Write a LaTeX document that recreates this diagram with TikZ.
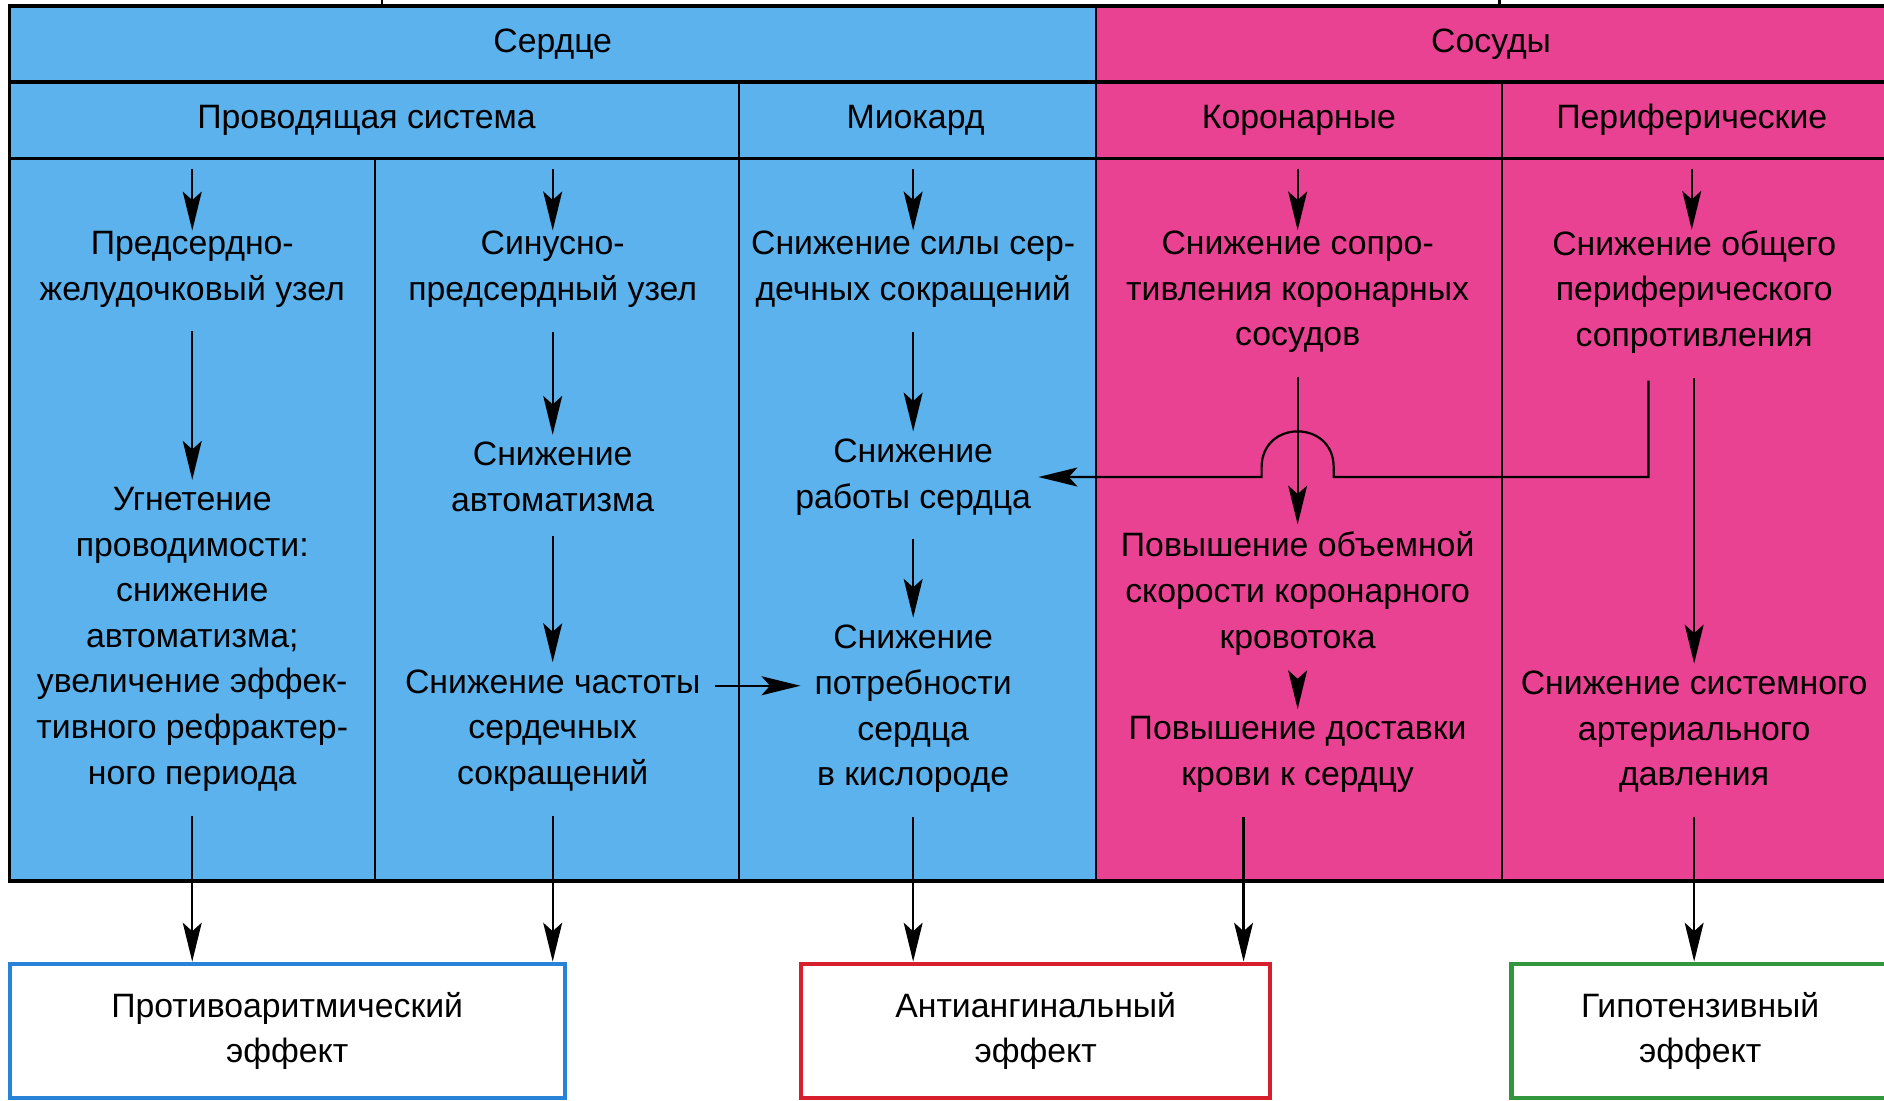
\documentclass[tikz,border=0pt]{standalone}
\usepackage{fontspec}
\setmainfont{Liberation Sans}
\usepackage{xcolor}
\usetikzlibrary{positioning,calc,arrows.meta}
\definecolor{HeartBlue}{RGB}{92,178,236}
\definecolor{VesselPink}{RGB}{234,66,146}
\definecolor{BoxBlue}{RGB}{40,130,215}
\definecolor{BoxRed}{RGB}{215,30,45}
\definecolor{BoxGreen}{RGB}{50,150,60}
\tikzset{
    txt/.style={align=center, inner sep=0pt, font=\fontsize{10}{13.5}\selectfont},
    arr/.style={draw=black, line width=0.65pt, -{Stealth[length=11.5pt, width=5.6pt, inset=2.5pt]}},
    link/.style={arr, shorten <=7pt, shorten >=2pt}
}

\begin{document}
\begin{tikzpicture}[
        x=0.0125cm, y=-0.0125cm,
        % --- STYLE BANG ---
        frame/.style={draw=black, line width=1.1pt},
        grid/.style={draw=black, line width=0.7pt},
        % Style hop hieu ung
        effect/.style={
            txt,
            rectangle,
            fill=white,
            line width=1.2pt,
            minimum height=1.4cm
        }
    ]
        \clip (0,0) rectangle (1568,916);

        % --- NEN BANG ---
        \fill[HeartBlue] (8,5) rectangle (912,733);
        \fill[VesselPink] (912,5) rectangle (1575,733);
        \draw[frame] (1575,5) -- (8,5) -- (8,733) -- (1575,733);
        \draw[frame] (8,68) -- (1575,68);
        \draw[frame] (8,132) -- (1575,132);
        \draw[grid] (912,5) -- (912,733);
        \draw[grid] (615,68) -- (615,733);
        \draw[grid] (1250,68) -- (1250,733);
        \draw[grid] (312,132) -- (312,733);
        \draw[grid] (318,0) -- (318,5);
        \draw[grid] (1248,0) -- (1248,5);
        \coordinate (subline) at (0,132);

        % --- TIEU DE ---
        \node[txt] (heart) at (460,37) {Сердце};
        \node[txt] (vessel) at (1241,37) {Сосуды};
        \node[txt] (cond) at (305,100) {Проводящая система};
        \node[txt] (myo) at (762,100) {Миокард};
        \node[txt] (coron) at (1081,100) {Коронарные};
        \node[txt] (peri) at (1408,100) {Периферические};

        % --- COT 1, 2: PROVODYASHCHAYA SISTEMA ---
        \node[txt] (av) at (160,224) {Предсердно-\\желудочковый узел};
        \node[txt] (avres) at (160,532) {Угнетение\\проводимости:\\снижение\\автоматизма;\\увеличение эффек-\\тивного рефрактер-\\ного периода};
        \node[txt] (sa) at (460,224) {Синусно-\\предсердный узел};
        \node[txt] (autom) at (460,397) {Снижение\\автоматизма};
        \node[txt] (rate) at (460,608) {Снижение частоты\\сердечных\\сокращений};

        % --- COT 3: MIOKARD ---
        \node[txt] (force) at (760,224) {Снижение силы сер-\\дечных сокращений};
        \node[txt] (work) at (760,397) {Снижение\\работы сердца};
        \node[txt] (demand) at (760,590) {Снижение\\потребности\\сердца\\в кислороде};

        % --- COT 4, 5: SOSUDY ---
        \node[txt] (corres) at (1080,243) {Снижение сопро-\\тивления коронарных\\сосудов};
        \node[txt] (flow) at (1080,494) {Повышение объемной\\скорости коронарного\\кровотока};
        \node[txt] (supply) at (1080,628) {Повышение доставки\\крови к сердцу};
        \node[txt] (perres) at (1410,243) {Снижение общего\\периферического\\сопротивления};
        \node[txt] (bp) at (1410,609) {Снижение системного\\артериального\\давления};

        % --- HIEU UNG ---
        \node[effect, draw=BoxBlue, minimum width=5.775cm] (antiarr) at (239,858) {Противоаритмический\\эффект};
        \node[effect, draw=BoxRed, minimum width=4.875cm] (antiang) at (862,858) {Антиангинальный\\эффект};
        \node[effect, draw=BoxGreen, minimum width=3.925cm] (hypot) at (1415,858) {Гипотензивный\\эффект};

        % --- MUI TEN ---
        \foreach \cell in {av, sa, force, corres} {
            \draw[arr, shorten <=3pt] (\cell |- subline) -- (\cell);
        }
        \draw[arr, shorten <=3pt] (1408,132) -- (perres.north -| 1408,0);

        \draw[link] (av) -- (avres);
        \draw[link] (sa) -- (autom);
        \draw[link] (autom) -- (rate);
        \draw[link] (force) -- (work);
        \draw[link] (work) -- (demand);
        \draw[link] (corres) -- (flow);
        \draw[link] (flow) -- (supply);
        \draw[link] (perres) -- (bp);

        \coordinate (rateout) at ($(rate.north east)+(12,14)$);
        \draw[arr, shorten >=4pt] (rateout) -- (rateout -| demand.west);

        % duong vong qua mui ten coronar
        \coordinate (turn) at (1372,397);
        \coordinate (hop) at (corres |- turn);
        \draw[arr, shorten >=2pt] ($(perres.south -| turn)+(0,22)$) -- (turn)
            -- ($(hop)+(30,0)$) -- ++(0,-8)
            .. controls +(0,-40) and +(0,-40) .. ($(hop)+(-30,-8)$)
            -- ++(0,8) -- (work.east);

        % xuong hop hieu ung
        \coordinate (supplyout) at ($(supply.south)+(-45,0)$);
        \draw[arr, shorten <=7pt] (avres) -- (avres |- antiarr.north);
        \draw[arr, shorten <=7pt] (rate) -- (rate |- antiarr.north);
        \draw[arr, shorten <=7pt] (demand) -- (demand |- antiang.north);
        \draw[arr, shorten <=7pt] (supplyout) -- (supplyout |- antiang.north);
        \draw[arr, shorten <=7pt] (bp) -- (bp |- hypot.north);

    \end{tikzpicture}
\end{document}
